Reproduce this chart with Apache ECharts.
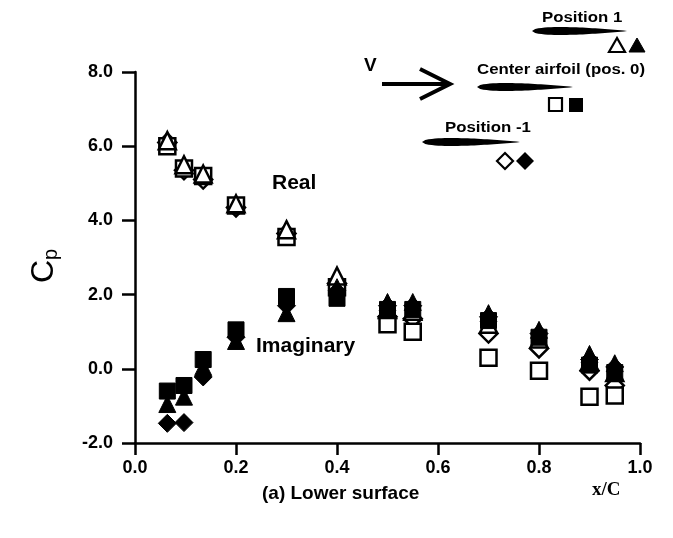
<!DOCTYPE html>
<html>
<head>
<meta charset="utf-8">
<script src="https://cdn.jsdelivr.net/npm/echarts@6/dist/echarts.min.js"></script>
<style>
html,body{margin:0;padding:0;background:#fff;}
#chart{width:673px;height:538px;}
</style>
</head>
<body>
<div id="chart"></div>
<script>
// x/C stations
var xC = [0.064, 0.097, 0.135, 0.2, 0.3, 0.4, 0.5, 0.55, 0.7, 0.8, 0.9, 0.95];
// Real part of Cp
var realPos1 = [6.15, 5.5, 5.25, 4.45, 3.75, 2.5, 1.6, 1.55, 1.2, 0.8, 0.2, -0.1];
var realCenter = [6.0, 5.4, 5.2, 4.4, 3.55, 2.2, 1.2, 1.0, 0.3, -0.05, -0.75, -0.72];
var realPosM1 = [6.1, 5.35, 5.1, 4.35, 3.65, 2.3, 1.4, 1.35, 0.95, 0.55, -0.05, -0.45];
// Imaginary part of Cp
var imagPos1 = [-0.95, -0.75, 0.05, 0.75, 1.5, 2.2, 1.8, 1.8, 1.5, 1.05, 0.4, 0.15];
var imagCenter = [-0.6, -0.45, 0.25, 1.05, 1.95, 1.9, 1.6, 1.6, 1.3, 0.85, 0.1, -0.1];
var imagPosM1 = [-1.47, -1.45, -0.22, 0.85, 1.7, 2.1, 1.7, 1.7, 1.4, 0.95, 0.25, 0.05];
// axis ticks
var xTicks = [0.0, 0.2, 0.4, 0.6, 0.8, 1.0];
var yTicks = [-2.0, 0.0, 2.0, 4.0, 6.0, 8.0];

function pairs(ys){ return xC.map(function(x,i){ return [x, ys[i]]; }); }

var openStyle = {color:'#fff', borderColor:'#000', borderWidth:2.5, opacity:1};
var fillStyle = {color:'#000', borderColor:'#000', borderWidth:1, opacity:1};
var FONT = 'Liberation Sans, Arial, sans-serif';

function ser(name, ys, sym, size, style){
  return {type:'scatter', name:name, data:pairs(ys), symbol:sym, symbolSize:size,
    itemStyle:style, silent:true, animation:false};
}

// airfoil outline points (decoration)
function airfoil(x0, x1, y, t){
  var top=[], bot=[], n=30;
  for (var i=0;i<=n;i++){
    var s=i/n;
    var h = t*(2.97*Math.sqrt(s)-1.26*s-3.52*s*s+2.84*s*s*s-1.0*s*s*s*s);
    var x = x0+(x1-x0)*s;
    top.push([x, y-h]); bot.unshift([x, y+h]);
  }
  return top.concat(bot);
}

var keyFont = 'bold 14px '+FONT;

var chart = echarts.init(document.getElementById('chart'), null, {renderer:'canvas'});
chart.setOption({
  animation:false,
  backgroundColor:'#fff',
  grid:{left:135, right:33, top:72, bottom:95},
  xAxis:{type:'value', min:0, max:1, interval:0.2,
    axisLine:{show:true, onZero:false, lineStyle:{color:'#000', width:2.5}},
    axisTick:{show:true, inside:false, length:12, lineStyle:{color:'#000', width:2.5}},
    axisLabel:{margin:16, color:'#000', fontFamily:FONT, fontWeight:'bold', fontSize:18,
      formatter:function(v){ return v.toFixed(1); }},
    splitLine:{show:false}},
  yAxis:{type:'value', min:-2, max:8, interval:2,
    axisLine:{show:true, onZero:false, lineStyle:{color:'#000', width:2.5}},
    axisTick:{show:true, inside:false, length:13, lineStyle:{color:'#000', width:2.5}},
    axisLabel:{margin:22, color:'#000', fontFamily:FONT, fontWeight:'bold', fontSize:18,
      formatter:function(v){ return v.toFixed(1); }},
    splitLine:{show:false}},
  series:[
    ser('Position -1 real', realPosM1, 'diamond', 18, openStyle),
    ser('Center real', realCenter, 'rect', 16, openStyle),
    ser('Position 1 real', realPos1, 'triangle', 17, openStyle),
    ser('Position -1 imag', imagPosM1, 'diamond', 18, fillStyle),
    ser('Center imag', imagCenter, 'rect', 16, fillStyle),
    ser('Position 1 imag', imagPos1, 'triangle', 17, fillStyle)
  ],
  graphic:[
    {type:'text', x:44, y:266, rotation:Math.PI/2,
      style:{text:'{c|C}{p|p}', align:'center', verticalAlign:'middle',
        rich:{
          c:{fontFamily:FONT, fontSize:32, fill:'#000', color:'#000'},
          p:{fontFamily:FONT, fontSize:20, fill:'#000', color:'#000', padding:[14,0,0,0]}
        }}},
    {type:'text', left:272, top:173, style:{text:'Real', font:'bold 21px '+FONT, fill:'#000'}},
    {type:'text', left:256, top:336, style:{text:'Imaginary', font:'bold 21px '+FONT, fill:'#000'}},
    {type:'text', left:262, top:484, style:{text:'(a) Lower surface', font:'bold 19px '+FONT, fill:'#000'}},
    {type:'text', left:592, top:481, style:{text:'x/C', font:'bold 19px Liberation Serif, serif', fill:'#000'}},
    // flow arrow
    {type:'text', left:364, top:56, style:{text:'V', font:'bold 19px '+FONT, fill:'#000'}},
    {type:'line', shape:{x1:382, y1:84, x2:448, y2:84}, style:{stroke:'#000', lineWidth:4}},
    {type:'polyline', shape:{points:[[420,69],[450,84],[420,99]]}, style:{stroke:'#000', lineWidth:4, fill:null}},
    // Position 1 key
    {type:'text', x:542, y:11, scaleX:1.2, style:{text:'Position 1', font:keyFont, fill:'#000'}},
    {type:'polygon', shape:{points:airfoil(532, 627, 31, 4)}, style:{fill:'#000'}},
    {type:'polygon', shape:{points:[[617,38],[609,52],[625,52]]}, style:{fill:'#fff', stroke:'#000', lineWidth:2.2}},
    {type:'polygon', shape:{points:[[637,38],[629,52],[645,52]]}, style:{fill:'#000', stroke:'#000', lineWidth:1}},
    // Center key
    {type:'text', x:477, y:63, scaleX:1.2, style:{text:'Center airfoil (pos. 0)', font:keyFont, fill:'#000'}},
    {type:'polygon', shape:{points:airfoil(477, 573, 87, 4)}, style:{fill:'#000'}},
    {type:'rect', shape:{x:549, y:98, width:13, height:13}, style:{fill:'#fff', stroke:'#000', lineWidth:2.2}},
    {type:'rect', shape:{x:569, y:98, width:14, height:14}, style:{fill:'#000'}},
    // Position -1 key
    {type:'text', x:445, y:121, scaleX:1.2, style:{text:'Position -1', font:keyFont, fill:'#000'}},
    {type:'polygon', shape:{points:airfoil(422, 520, 142, 4)}, style:{fill:'#000'}},
    {type:'polygon', shape:{points:[[505,153],[513,161],[505,169],[497,161]]}, style:{fill:'#fff', stroke:'#000', lineWidth:2.2}},
    {type:'polygon', shape:{points:[[525,152],[534,161],[525,170],[516,161]]}, style:{fill:'#000'}}
  ]
});
</script>
</body>
</html>
